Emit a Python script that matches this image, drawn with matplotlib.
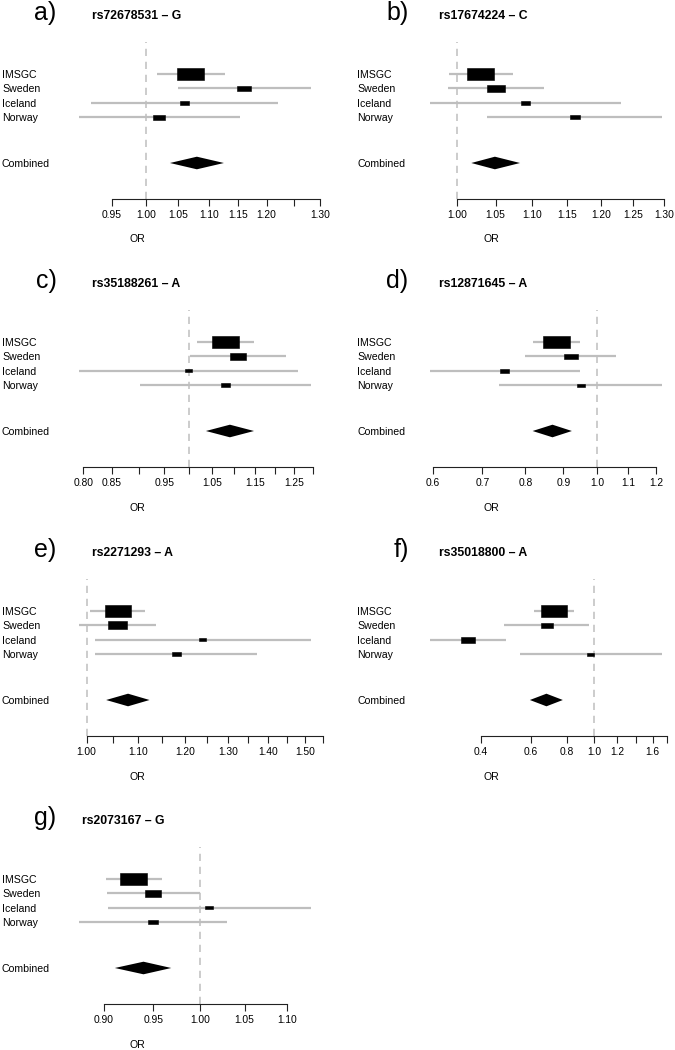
import numpy as np
import matplotlib
matplotlib.use("Agg")
import matplotlib.pyplot as plt
from matplotlib.path import Path
from matplotlib.ticker import FixedLocator, FixedFormatter, NullLocator
import matplotlib.transforms as mtrans

# ---------------- data ----------------
studies = ["IMSGC", "Sweden", "Iceland", "Norway"]
summary_label = "Combined"
letters = ["a)", "b)", "c)", "d)", "e)", "f)", "g)"]
snps = ["rs72678531 \u2013 G", "rs17674224 \u2013 C", "rs35188261 \u2013 A",
        "rs12871645 \u2013 A", "rs2271293 \u2013 A", "rs35018800 \u2013 A",
        "rs2073167 \u2013 G"]

or_mid = [[1.070, 1.160, 1.060, 1.020],
          [1.030, 1.050, 1.090, 1.161],
          [1.081, 1.110, 1.000, 1.081],
          [0.880, 0.921, 0.750, 0.951],
          [1.060, 1.060, 1.240, 1.181],
          [0.722, 0.682, 0.361, 0.970],
          [0.930, 0.950, 1.010, 0.950]]
or_low = [[1.017, 1.049, 0.921, 0.904],
          [0.989, 0.988, 0.966, 1.038],
          [1.017, 1.002, 0.793, 0.902],
          [0.820, 0.798, 0.595, 0.738],
          [1.007, 0.986, 1.015, 1.015],
          [0.614, 0.483, 0.266, 0.548],
          [0.902, 0.903, 0.904, 0.876]]
or_high = [[1.126, 1.283, 1.221, 1.152],
           [1.073, 1.116, 1.231, 1.297],
           [1.148, 1.229, 1.261, 1.295],
           [0.947, 1.060, 0.947, 1.222],
           [1.115, 1.138, 1.517, 1.373],
           [0.848, 0.962, 0.490, 1.726],
           [0.959, 1.000, 1.129, 1.030]]
comb_mid = [1.080, 1.049, 1.091, 0.870, 1.080, 0.680, 0.940]
comb_low = [1.037, 1.018, 1.037, 0.818, 1.037, 0.595, 0.911]
comb_high = [1.125, 1.083, 1.148, 0.924, 1.124, 0.776, 0.969]

ticks = [[0.95, 1.00, 1.05, 1.10, 1.15, 1.20, 1.25, 1.30],
         [1.00, 1.05, 1.10, 1.15, 1.20, 1.25, 1.30],
         [0.80, 0.85, 0.90, 0.95, 1.00, 1.05, 1.10, 1.15, 1.20, 1.25, 1.30],
         [0.6, 0.7, 0.8, 0.9, 1.0, 1.1, 1.2],
         [1.00, 1.05, 1.10, 1.15, 1.20, 1.25, 1.30, 1.35, 1.40, 1.45, 1.50, 1.55],
         [0.4, 0.6, 0.8, 1.0, 1.2, 1.4, 1.6, 1.8],
         [0.90, 0.95, 1.00, 1.05, 1.10]]
tick_labels = [["0.95", "1.00", "1.05", "1.10", "1.15", "1.20", "", "1.30"],
               ["1.00", "1.05", "1.10", "1.15", "1.20", "1.25", "1.30"],
               ["0.80", "0.85", "", "0.95", "", "1.05", "", "1.15", "", "1.25", ""],
               ["0.6", "0.7", "0.8", "0.9", "1.0", "1.1", "1.2"],
               ["1.00", "", "1.10", "", "1.20", "", "1.30", "", "1.40", "", "1.50", ""],
               ["0.4", "0.6", "0.8", "1.0", "1.2", "", "1.6", ""],
               ["0.90", "0.95", "1.00", "1.05", "1.10"]]
xlabel = "OR"

# ---------------- layout ----------------
plt.rcParams['font.family'] = ['Liberation Sans', 'DejaVu Sans']
W, H = 675, 1050
fig = plt.figure(figsize=(6.75, 10.5), dpi=100)

grid_pos = [(0, 0), (1, 0), (0, 1), (1, 1), (0, 2), (1, 2), (0, 3)]
row_tops = [0, 268, 537, 805]
data_left = [79, 430]
data_w = 232
pad_px = 14
label_x = [2, 357]
title_x = [92.3, 438.7]
letter_right = [56.5, 408.5]
or_x = [137.7, 491]
first_row_px = 74
pitch = 14.4
top_px = 42
axis_px = 199
comb_px = 163
y_top = (top_px - first_row_px) / pitch
y_axis = (axis_px - first_row_px) / pitch
comb_row = (comb_px - first_row_px) / pitch
diamond_half = 6.3 / pitch
max_box_px = 26.7
box_aspect = 2.4

line_col = '#BEBEBE'
zero_col = '#C8C8C8'
label_size = 7.6
tick_size = 7.4

def fx(px):
    return px / W

def fy(py):
    return 1 - py / H

box_marker = Path([(-box_aspect / 2, -0.5), (box_aspect / 2, -0.5),
                   (box_aspect / 2, 0.5), (-box_aspect / 2, 0.5), (-box_aspect / 2, -0.5)],
                  [Path.MOVETO, Path.LINETO, Path.LINETO, Path.LINETO, Path.CLOSEPOLY])

for i in range(len(snps)):
    col, row = grid_pos[i]
    R = row_tops[row]
    left = data_left[col] - pad_px
    ax = fig.add_axes([fx(left), fy(R + axis_px), fx(data_w + 2 * pad_px),
                       (axis_px - top_px) / H])
    ax.set_xscale('log')
    lo = np.array(or_low[i]); hi = np.array(or_high[i]); mid = np.array(or_mid[i])
    lmin = np.log(min(lo.min(), comb_low[i]))
    lmax = np.log(max(hi.max(), comb_high[i]))
    m = (lmax - lmin) * pad_px / data_w
    ax.set_xlim(np.exp(lmin - m), np.exp(lmax + m))
    ax.set_ylim(y_axis, y_top)

    rows = np.arange(len(studies))
    ax.axvline(1.0, color=zero_col, lw=1.3, dashes=(4, 3.2), zorder=1)
    ax.hlines(rows, lo, hi, color=line_col, lw=1.6, zorder=2)
    info = 1.0 / (np.log(hi) - np.log(lo))
    info = info / info.max()
    wpt = max_box_px * info * 0.72
    ax.scatter(mid, rows, s=wpt ** 2, marker=box_marker, color='black',
               linewidths=0.4, edgecolors='black', zorder=3)
    ax.fill([comb_low[i], comb_mid[i], comb_high[i], comb_mid[i]],
            [comb_row, comb_row - diamond_half, comb_row, comb_row + diamond_half],
            color='black', lw=0, zorder=3)

    for s in ['top', 'right', 'left']:
        ax.spines[s].set_visible(False)
    ax.spines['bottom'].set_bounds(ticks[i][0], ticks[i][-1])
    ax.spines['bottom'].set_linewidth(0.8)
    ax.spines['bottom'].set_color('#222222')
    ax.xaxis.set_major_locator(FixedLocator(ticks[i]))
    ax.xaxis.set_major_formatter(FixedFormatter(tick_labels[i]))
    ax.xaxis.set_minor_locator(NullLocator())
    ax.tick_params(axis='x', length=5, width=0.8, color='#222222', pad=3,
                   labelsize=tick_size, direction='out')
    ax.set_yticks([])
    ax.patch.set_visible(False)

    trans = mtrans.blended_transform_factory(fig.transFigure, ax.transData)
    for r, name in zip(rows, studies):
        ax.text(fx(label_x[col]), r, name, transform=trans, ha='left',
                va='center_baseline', fontsize=label_size, clip_on=False)
    ax.text(fx(label_x[col]), comb_row, summary_label, transform=trans, ha='left',
            va='center_baseline', fontsize=label_size, clip_on=False)

    tx = title_x[col] if i != 6 else 81.7
    fig.text(fx(tx), fy(R + 19.3), snps[i], fontweight='bold', fontsize=8.8,
             ha='left', va='baseline')
    fig.text(fx(letter_right[col]), fy(R + 19.8), letters[i], fontsize=18,
             ha='right', va='baseline')
    fig.text(fx(or_x[col]), fy(R + 239.5), xlabel, fontsize=label_size,
             ha='center', va='center')

fig.savefig('out.png', dpi=100)
